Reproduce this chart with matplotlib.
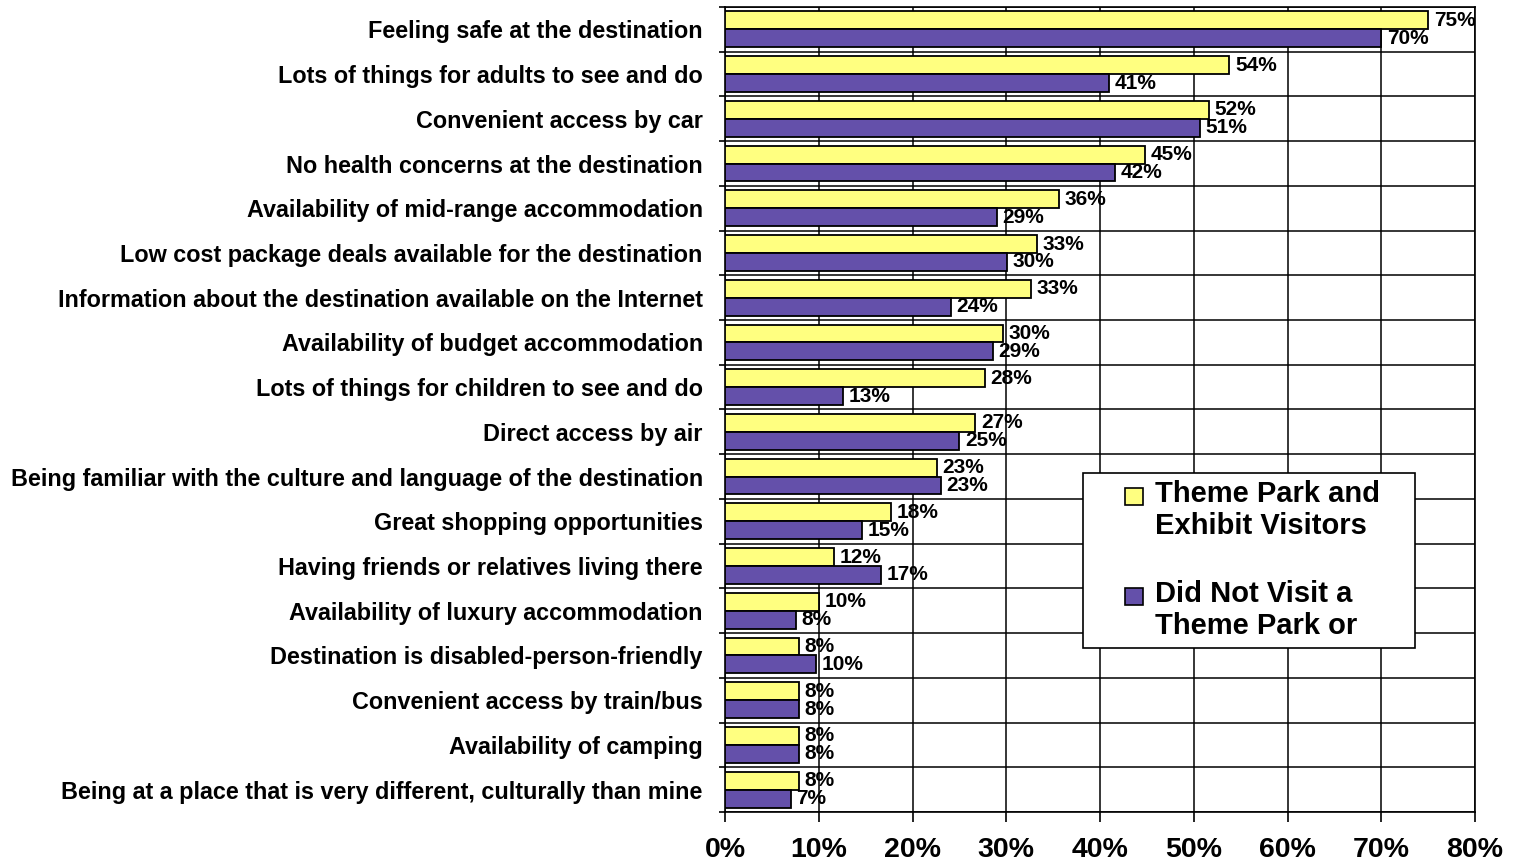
import matplotlib
matplotlib.use("Agg")
import matplotlib.pyplot as plt
import numpy as np
from matplotlib.ticker import FixedLocator, FuncFormatter
from matplotlib.patches import Rectangle

plt.rcParams['font.family'] = ['Liberation Sans', 'DejaVu Sans']

categories = [
    "Feeling safe at the destination",
    "Lots of things for adults to see and do",
    "Convenient access by car",
    "No health concerns at the destination",
    "Availability of mid-range accommodation",
    "Low cost package deals available for the destination",
    "Information about the destination available on the Internet",
    "Availability of budget accommodation",
    "Lots of things for children to see and do",
    "Direct access by air",
    "Being familiar with the culture and language of the destination",
    "Great shopping opportunities",
    "Having friends or relatives living there",
    "Availability of luxury accommodation",
    "Destination is disabled-person-friendly",
    "Convenient access by train/bus",
    "Availability of camping",
    "Being at a place that is very different, culturally than mine",
]
theme_park = [75.0, 53.8, 51.6, 44.8, 35.6, 33.3, 32.6, 29.7, 27.7, 26.7,
              22.6, 17.7, 11.6, 10.0, 7.9, 7.9, 7.9, 7.9]
did_not_visit = [70.0, 41.0, 50.7, 41.6, 29.0, 30.1, 24.1, 28.6, 12.6, 25.0,
                 23.0, 14.6, 16.6, 7.6, 9.7, 7.9, 7.9, 7.0]
series_names = ["Theme Park and\nExhibit Visitors", "Did Not Visit a\nTheme Park or"]
x_ticks = [0, 10, 20, 30, 40, 50, 60, 70, 80]

yellow = "#FFFF80"
purple = "#6450AA"

W, H = 1517, 867
fig = plt.figure(figsize=(W/100, H/100), dpi=100)
ax = fig.add_axes([725/W, 1-812/H, 750/W, (812-7)/H])

n = len(categories)
y = np.arange(n)
h = 0.4
b1 = ax.barh(y - h/2, theme_park, height=h, color=yellow, edgecolor="black",
             linewidth=1.3, zorder=3)
b2 = ax.barh(y + h/2, did_not_visit, height=h, color=purple, edgecolor="black",
             linewidth=1.3, zorder=3)

for bars, vals in ((b1, theme_park), (b2, did_not_visit)):
    for bar, v in zip(bars, vals):
        ax.annotate(f"{v:.0f}%", (v, bar.get_y() + bar.get_height()/2),
                    xytext=(4, 0), textcoords="offset points",
                    ha="left", va="center", fontsize=15, fontweight="bold", zorder=5)

ax.set_xlim(0, 80)
ax.set_ylim(n - 0.5, -0.5)

ax.xaxis.set_major_locator(FixedLocator(x_ticks))
ax.xaxis.set_major_formatter(FuncFormatter(lambda v, p: f"{v:.0f}%"))
ax.tick_params(axis="x", direction="out", length=7, width=1.2, pad=11,
               labelsize=20.5)
for lab in ax.get_xticklabels():
    lab.set_fontweight("bold")

ax.yaxis.set_major_locator(FixedLocator(np.arange(n + 1) - 0.5))
ax.yaxis.set_major_formatter(FuncFormatter(lambda v, p: ""))
ax.set_yticks(y, minor=True)
ax.set_yticklabels(categories, minor=True, fontsize=16.8, fontweight="bold")
ax.tick_params(axis="y", which="major", direction="out", length=4, width=1.2)
ax.tick_params(axis="y", which="minor", length=0, pad=16)

ax.grid(True, which="major", color="black", linewidth=1.1, zorder=0)
ax.set_axisbelow(True)
for s in ax.spines.values():
    s.set_linewidth(1.2)
    s.set_color("black")

# legend box drawn by hand (handles aligned to the first text line)
def fx(px):
    return px / W

def fy(py):
    return 1 - py / H

frame = Rectangle((fx(1083), fy(648)), fx(1415) - fx(1083), fy(473) - fy(648),
                  transform=fig.transFigure, facecolor="white", edgecolor="black",
                  linewidth=1.2, zorder=10)
fig.add_artist(frame)
for color, name, top in ((yellow, series_names[0], 488), (purple, series_names[1], 588)):
    sq = Rectangle((fx(1125), fy(top + 17)), fx(1143) - fx(1125), fy(top) - fy(top + 17),
                   transform=fig.transFigure, facecolor=color, edgecolor="black",
                   linewidth=1.2, zorder=11)
    fig.add_artist(sq)
    fig.text(fx(1155), fy(top - 8), name, ha="left", va="top", fontsize=21,
             fontweight="bold", linespacing=1.2, zorder=12)

fig.savefig("out.png", dpi=100)
